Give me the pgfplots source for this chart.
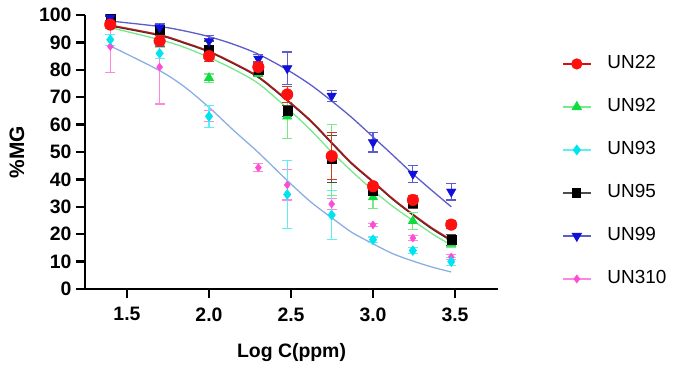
\documentclass[border=0pt]{standalone}
\usepackage{pgfplots}
\pgfplotsset{compat=1.18}
\usepackage{pgfplotstable}
\usepackage{fontspec}
\setmainfont{Liberation Sans}

\definecolor{cRed}{HTML}{FF1010}
\definecolor{cRedErr}{HTML}{C8401C}
\definecolor{cGreen}{HTML}{10DC40}
\definecolor{cGreenLine}{HTML}{78E888}
\definecolor{cCyan}{HTML}{00E4F0}
\definecolor{cCyanErr}{HTML}{60EEF6}
\definecolor{cBlue}{HTML}{1010DC}
\definecolor{cBlueLine}{HTML}{5C5CCC}
\definecolor{cPink}{HTML}{FF4CD4}
\definecolor{cPinkErr}{HTML}{FF86DC}
\definecolor{cFitLow}{HTML}{8CAEE6}

% Mean %MG and error for each sample at each log concentration
\pgfplotstableread{
x      y     e
1.398  96.5  1.5
1.699  90.5  2.0
2.000  85.0  2.0
2.301  81.0  2.0
2.477  71.0  3.0
2.748  48.5  8.5
3.000  37.5  1.5
3.243  32.5  1.5
3.477  23.5  1.5
}\unTwentyTwo
\pgfplotstableread{
x      y     e
1.398  96.0  1.0
1.699  91.0  2.0
2.000  77.0  1.5
2.301  78.5  1.0
2.477  63.0  8.0
2.748  47.0  13.0
3.000  33.5  4.0
3.243  24.8  3.0
3.477  16.5  1.5
}\unNinetyTwo
\pgfplotstableread{
x      y     e
1.398  91.0  2.0
1.699  86.0  2.0
2.000  63.0  4.0
2.477  34.5  12.5
2.748  27.0  9.0
3.000  18.0  1.0
3.243  14.0  1.0
3.477  10.0  1.5
}\unNinetyThree
\pgfplotstableread{
x      y     e
1.398  98.5  1.0
1.699  94.5  1.5
2.000  87.5  3.0
2.301  80.0  2.0
2.477  65.0  2.0
2.748  47.5  8.5
3.000  36.0  2.0
3.243  31.5  2.0
3.477  18.0  2.0
}\unNinetyFive
\pgfplotstableread{
x      y     e
1.398  99.0  1.0
1.699  95.5  1.5
2.000  90.5  2.0
2.301  84.0  1.5
2.477  80.5  6.0
2.748  70.5  2.0
3.000  53.5  3.5
3.243  42.0  3.0
3.477  35.5  3.0
}\unNinetyNine
\pgfplotstableread{
x      y     e
1.398  88.5  9.5
1.699  81.0  13.5
2.000  63.0  2.0
2.301  44.3  1.5
2.477  38.0  5.5
2.748  31.0  2.0
3.000  23.4  0.5
3.243  18.6  1.0
3.477  11.7  1.0
}\unThreeTen

\pgfplotsset{
  errstyle/.style={
    error bars/.cd, y dir=both, y explicit,
    error bar style={line width=1.2bp, color=#1},
    error mark options={rotate=90, mark size=5bp, line width=1.2bp, color=#1}
  }
}

\begin{document}
\begin{tikzpicture}
\useasboundingbox (0,0) rectangle (678bp,369bp);
\begin{axis}[
  at={(85bp,80bp)}, anchor=south west,
  scale only axis, width=413bp, height=274bp,
  xmin=1.244, xmax=3.762, ymin=0, ymax=100,
  clip=false,
  axis x line*=bottom, axis y line*=left,
  axis line style={line width=2.5bp, black, -},
  xtick={1.5,2.0,2.5,3.0,3.5},
  ytick={0,10,...,100},
  xticklabels={1.5,2.0,2.5,3.0,3.5},
  tick align=outside,
  major tick length=9bp,
  tick style={line width=2.5bp, black},
  /pgf/number format/assume math mode=true,
  tick label style={font=\fontsize{19.5}{20}\selectfont\bfseries},
  yticklabel style={xshift=-1bp},
  xticklabel style={yshift=-6bp},
  xlabel={Log C(ppm)},
  ylabel={\%MG},
  xlabel style={font=\fontsize{19.5}{22}\selectfont\bfseries, at={(axis description cs:0.5,-0.23)}, anchor=center},
  ylabel style={font=\fontsize{21}{24}\selectfont\bfseries, at={(axis description cs:-0.165,0.5)}, anchor=center},
  legend style={at={(axis description cs:1.155,0.855)}, anchor=north west,
    draw=none, fill=none, inner sep=0pt, row sep=25bp, column sep=16bp,
    font=\fontsize{19}{20}\selectfont,
    nodes={inner sep=0pt, text height=14bp, text depth=4bp}},
  legend cell align=left,
  legend image code/.code={
    \draw[mark repeat=2, mark phase=2, #1]
      plot coordinates {(0bp,0bp) (14bp,0bp) (28bp,0bp)};},
]

% fitted dose-response curves
\addplot[smooth, color=cBlueLine, line width=1.3bp, forget plot] coordinates {
 (1.398,97.8) (1.699,95.8) (1.850,94.2) (2.000,92.1) (2.150,89.3)
 (2.301,85.7) (2.477,80.0) (2.620,74.5) (2.748,68.6) (2.870,62.6)
 (3.000,55.5) (3.120,48.9) (3.243,42.0) (3.360,35.9) (3.477,30.0)};
\addplot[smooth, color=cGreenLine, line width=1.3bp, forget plot] coordinates {
 (1.398,95.4) (1.699,91.0) (1.850,88.2) (2.000,84.5) (2.150,80.2)
 (2.301,75.0) (2.477,66.0) (2.620,58.0) (2.748,50.0) (2.870,43.0)
 (3.000,36.0) (3.120,30.2) (3.243,25.0) (3.360,20.2) (3.477,16.0)};
\addplot[smooth, color=black!80, line width=1.8bp, forget plot] coordinates {
 (1.398,96.1) (1.699,92.6) (1.850,89.8) (2.000,86.6) (2.150,82.3)
 (2.301,77.3) (2.477,68.8) (2.620,61.3) (2.748,53.3) (2.870,45.8)
 (3.000,39.1) (3.120,32.8) (3.243,27.1) (3.360,22.0) (3.477,17.7)};
\addplot[smooth, color=cRed!85!black, opacity=0.75, line width=1.4bp, forget plot] coordinates {
 (1.398,96.3) (1.699,92.8) (1.850,90.0) (2.000,86.8) (2.150,82.5)
 (2.301,77.5) (2.477,69.0) (2.620,61.5) (2.748,53.5) (2.870,46.0)
 (3.000,39.3) (3.120,33.0) (3.243,27.3) (3.360,22.3) (3.477,18.0)};
\addplot[smooth, color=cFitLow, line width=1.3bp, forget plot] coordinates {
 (1.398,88.7) (1.699,79.7) (1.850,73.8) (2.000,66.3) (2.150,57.9)
 (2.301,49.8) (2.477,39.6) (2.620,31.8) (2.748,26.0) (2.870,20.7)
 (3.000,16.5) (3.120,12.9) (3.243,10.2) (3.360,8.0) (3.477,6.2)};

% measured points with error bars
\addplot[only marks, mark=diamond*, mark size=4bp, color=cPink, forget plot,
  errstyle=cPinkErr] table[y error=e] {\unThreeTen};
\addplot[only marks, mark=diamond*, mark size=5bp, color=cCyan, forget plot,
  errstyle=cCyanErr] table[y error=e] {\unNinetyThree};
\addplot[only marks, mark=triangle*, mark size=5.5bp, color=cGreen, forget plot,
  errstyle=cGreenLine] table[y error=e] {\unNinetyTwo};
\addplot[only marks, mark=square*, mark size=4.5bp, color=black, forget plot,
  errstyle=black!70] table[y error=e] {\unNinetyFive};
\addplot[only marks, mark=triangle*, mark size=5.5bp, color=cBlue, forget plot,
  mark options={rotate=180}, errstyle=cBlueLine] table[y error=e] {\unNinetyNine};
\addplot[only marks, mark=*, mark size=5.8bp, color=cRed, forget plot,
  errstyle=cRedErr] table[y error=e] {\unTwentyTwo};

% legend
\addlegendimage{color=cRed!85!black, line width=1.2bp, mark=*, mark size=5bp, mark options={color=cRed}}
\addlegendentry{UN22}
\addlegendimage{color=cGreenLine, line width=1.2bp, mark=triangle*, mark size=5bp, mark options={color=cGreen}}
\addlegendentry{UN92}
\addlegendimage{color=cCyanErr, line width=1.2bp, mark=diamond*, mark size=4.5bp, mark options={color=cCyan}}
\addlegendentry{UN93}
\addlegendimage{color=black!70, line width=1.2bp, mark=square*, mark size=4bp, mark options={color=black}}
\addlegendentry{UN95}
\addlegendimage{color=cBlueLine, line width=1.2bp, mark=triangle*, mark size=5bp, mark options={color=cBlue, rotate=180}}
\addlegendentry{UN99}
\addlegendimage{color=cPinkErr, line width=1.2bp, mark=diamond*, mark size=3.5bp, mark options={color=cPink}}
\addlegendentry{UN310}
\end{axis}
\end{tikzpicture}
\end{document}
